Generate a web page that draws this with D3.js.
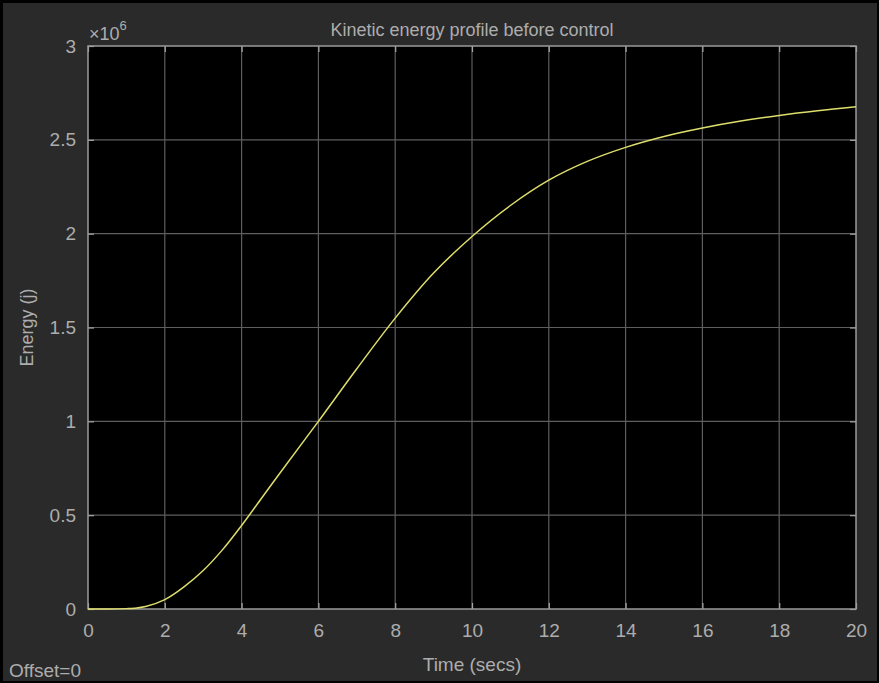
<!DOCTYPE html>
<html>
<head>
<meta charset="utf-8">
<script src="https://cdn.jsdelivr.net/npm/d3@7/dist/d3.min.js"></script>
<style>
  html, body { margin: 0; padding: 0; background: #000; }
  svg { display: block; }
  text { font-family: "Liberation Sans", Arial, sans-serif; fill: #adadad; }
</style>
</head>
<body>
<svg id="chart" width="879" height="683"></svg>
<script>
// Scope trace: kinetic energy (in units of 1e6 J) against simulation time
const timeSecs = [0, 0.5, 1, 1.2, 1.5, 2, 2.5, 3, 3.5, 4, 4.5, 5, 6, 7, 8, 9, 10, 11, 12, 13, 14, 15, 16, 17, 18, 19, 20];
const energyMJ = [0, 0, 0.002, 0.004, 0.013, 0.05, 0.118, 0.205, 0.315, 0.445, 0.585, 0.725, 1.0, 1.28, 1.55, 1.79, 1.985, 2.15, 2.285, 2.385, 2.46, 2.518, 2.563, 2.6, 2.63, 2.655, 2.676];

const xTicks = [0, 2, 4, 6, 8, 10, 12, 14, 16, 18, 20];
const yTicks = [0, 0.5, 1, 1.5, 2, 2.5, 3];

const chartTitle = "Kinetic energy profile before control";
const xLabel = "Time (secs)";
const yLabel = "Energy (j)";
const offsetNote = "Offset=0";

const W = 879, H = 683;
const plot = { left: 88, right: 856, top: 46, bottom: 609 };

const svg = d3.select("#chart");

// window frame and dark figure background
svg.append("rect").attr("x", 0).attr("y", 0).attr("width", W).attr("height", H).attr("fill", "#000");
svg.append("rect").attr("x", 3).attr("y", 3).attr("width", W - 5).attr("height", H - 5).attr("fill", "#2a2a2a");

const x = d3.scaleLinear().domain([0, 20]).range([plot.left, plot.right]);
const y = d3.scaleLinear().domain([0, 3]).range([plot.bottom, plot.top]);

// axes area
svg.append("rect")
  .attr("x", plot.left).attr("y", plot.top)
  .attr("width", plot.right - plot.left).attr("height", plot.bottom - plot.top)
  .attr("fill", "#000");

// grid
const grid = svg.append("g");
grid.selectAll("line.vx").data(xTicks.slice(1, -1)).join("line")
  .attr("x1", d => x(d)).attr("x2", d => x(d))
  .attr("y1", plot.top).attr("y2", plot.bottom)
  .attr("stroke", "#5e5e5e").attr("stroke-width", 1.2);
grid.selectAll("line.hy").data(yTicks.slice(1, -1)).join("line")
  .attr("x1", plot.left).attr("x2", plot.right)
  .attr("y1", d => y(d)).attr("y2", d => y(d))
  .attr("stroke", "#5e5e5e").attr("stroke-width", 1.2);

// axes with inward ticks on all four sides
function styleAxis(g) {
  g.select(".domain").remove();
  g.selectAll(".tick line").attr("stroke", "#a8a8a8").attr("stroke-width", 1.2);
  g.selectAll(".tick text").attr("fill", "#adadad").style("font-size", "19px")
    .style("font-family", "'Liberation Sans', Arial, sans-serif");
}

svg.append("g")
  .attr("transform", `translate(0,${plot.bottom})`)
  .call(d3.axisBottom(x).tickValues(xTicks).tickSizeInner(-6).tickSizeOuter(0).tickPadding(15).tickFormat(d3.format("d")))
  .call(styleAxis);
svg.append("g")
  .attr("transform", `translate(0,${plot.top})`)
  .call(d3.axisTop(x).tickValues(xTicks).tickSizeInner(-6).tickSizeOuter(0).tickFormat(""))
  .call(styleAxis);
svg.append("g")
  .attr("transform", `translate(${plot.left},0)`)
  .call(d3.axisLeft(y).tickValues(yTicks).tickSizeInner(-6).tickSizeOuter(0).tickPadding(12).tickFormat(d3.format("~g")))
  .call(styleAxis);
svg.append("g")
  .attr("transform", `translate(${plot.right},0)`)
  .call(d3.axisRight(y).tickValues(yTicks).tickSizeInner(-6).tickSizeOuter(0).tickFormat(""))
  .call(styleAxis);

// box
svg.append("rect")
  .attr("x", plot.left).attr("y", plot.top)
  .attr("width", plot.right - plot.left).attr("height", plot.bottom - plot.top)
  .attr("fill", "none").attr("stroke", "#9a9a9a").attr("stroke-width", 1.5);

// energy trace
const series = timeSecs.map((t, i) => ({ t, e: energyMJ[i] }));
svg.append("path")
  .datum(series)
  .attr("fill", "none")
  .attr("stroke", "#dede6c")
  .attr("stroke-width", 1.5)
  .attr("d", d3.line().x(d => x(d.t)).y(d => y(d.e)).curve(d3.curveCatmullRom.alpha(0.5)));

// exponent marker
const expo = svg.append("text").attr("x", plot.left + 1).attr("y", 40).style("font-size", "18px");
expo.append("tspan").text("\u00d710");
expo.append("tspan").attr("dy", -10).style("font-size", "13px").text("6");

// title and axis labels
svg.append("text").attr("x", (plot.left + plot.right) / 2).attr("y", 36)
  .attr("text-anchor", "middle").style("font-size", "18px").text(chartTitle);
svg.append("text").attr("x", (plot.left + plot.right) / 2).attr("y", 671)
  .attr("text-anchor", "middle").style("font-size", "19px").text(xLabel);
svg.append("text")
  .attr("transform", `translate(33,${(plot.top + plot.bottom) / 2}) rotate(-90)`)
  .attr("text-anchor", "middle").style("font-size", "18px").text(yLabel);
svg.append("text").attr("x", 9).attr("y", 677).style("font-size", "19px").text(offsetNote);
</script>
</body>
</html>
